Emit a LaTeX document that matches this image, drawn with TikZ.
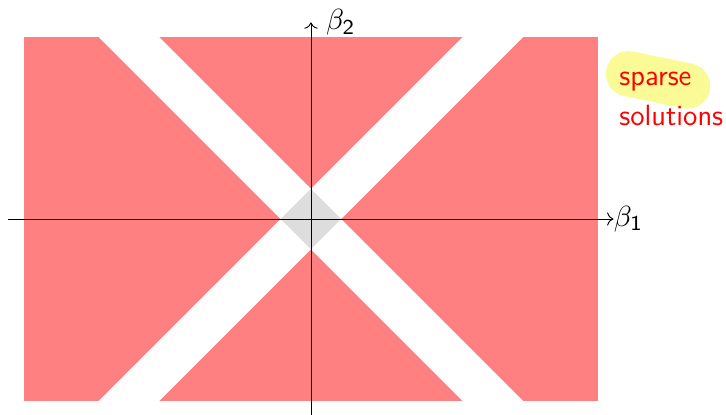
\documentclass[tikz,border=0pt]{standalone}
\usepackage{xcolor}
\usepackage{amsmath,amssymb}
\definecolor{spred}{HTML}{FF8080}
\definecolor{spgray}{HTML}{DDDDDD}
\definecolor{sphl}{HTML}{FAFA96}
\definecolor{spink}{HTML}{FF0000}
\usetikzlibrary{arrows.meta}
\tikzset{
  spregion/.style={fill=spred, draw=none},
  spband/.style  ={fill=white, draw=none},
  spball/.style  ={fill=spgray, draw=none},
  spaxis/.style  ={->, line width=0.35pt, draw=black},
  splbl/.style   ={font=\fontsize{11}{13}\selectfont, text=black},
  spnote/.style  ={font=\fontsize{11}{13}\selectfont\sffamily, text=spink, align=left},
  sphigh/.style  ={draw=sphl, line width=0.6cm, line cap=round},
}

\begin{document}
\begin{tikzpicture}[x=0.4cm, y=0.4cm]
  \useasboundingbox (-10.28,-6.45) rectangle (13.72,7.24);
  \begin{scope}
    \clip (-9.5,-6) rectangle (9.5,6);
    \fill[spregion] (-9.5,-6) rectangle (9.5,6);
    \fill[spband] (-8,7) -- (-6,7) -- (8,-7) -- (6,-7) -- cycle;
    \fill[spband] (6,7) -- (8,7) -- (-6,-7) -- (-8,-7) -- cycle;
    \fill[spball] (-1,0) -- (0,1) -- (1,0) -- (0,-1) -- cycle;
  \end{scope}
  \coordinate (xlo) at (-10,0);
  \coordinate (xhi) at (10,0);
  \coordinate (ylo) at (0,-6.6);
  \coordinate (yhi) at (0,6.5);
  \draw[spaxis] (xlo) -- (xhi) node[right, splbl, inner sep=0pt] (b1) {$\beta_{\mathsf{1}}$};
  \draw[spaxis] (ylo) -- (yhi) node[right, splbl, inner sep=5.5pt] (b2) {$\beta_{\mathsf{2}}$};
  \draw[sphigh] (10.50,4.80) -- (12.45,4.40);
  \node[spnote, anchor=base west, inner sep=0pt] (sparse) at (10.18,3.09)
       {sparse\\[2pt]solutions};
\end{tikzpicture}
\end{document}
